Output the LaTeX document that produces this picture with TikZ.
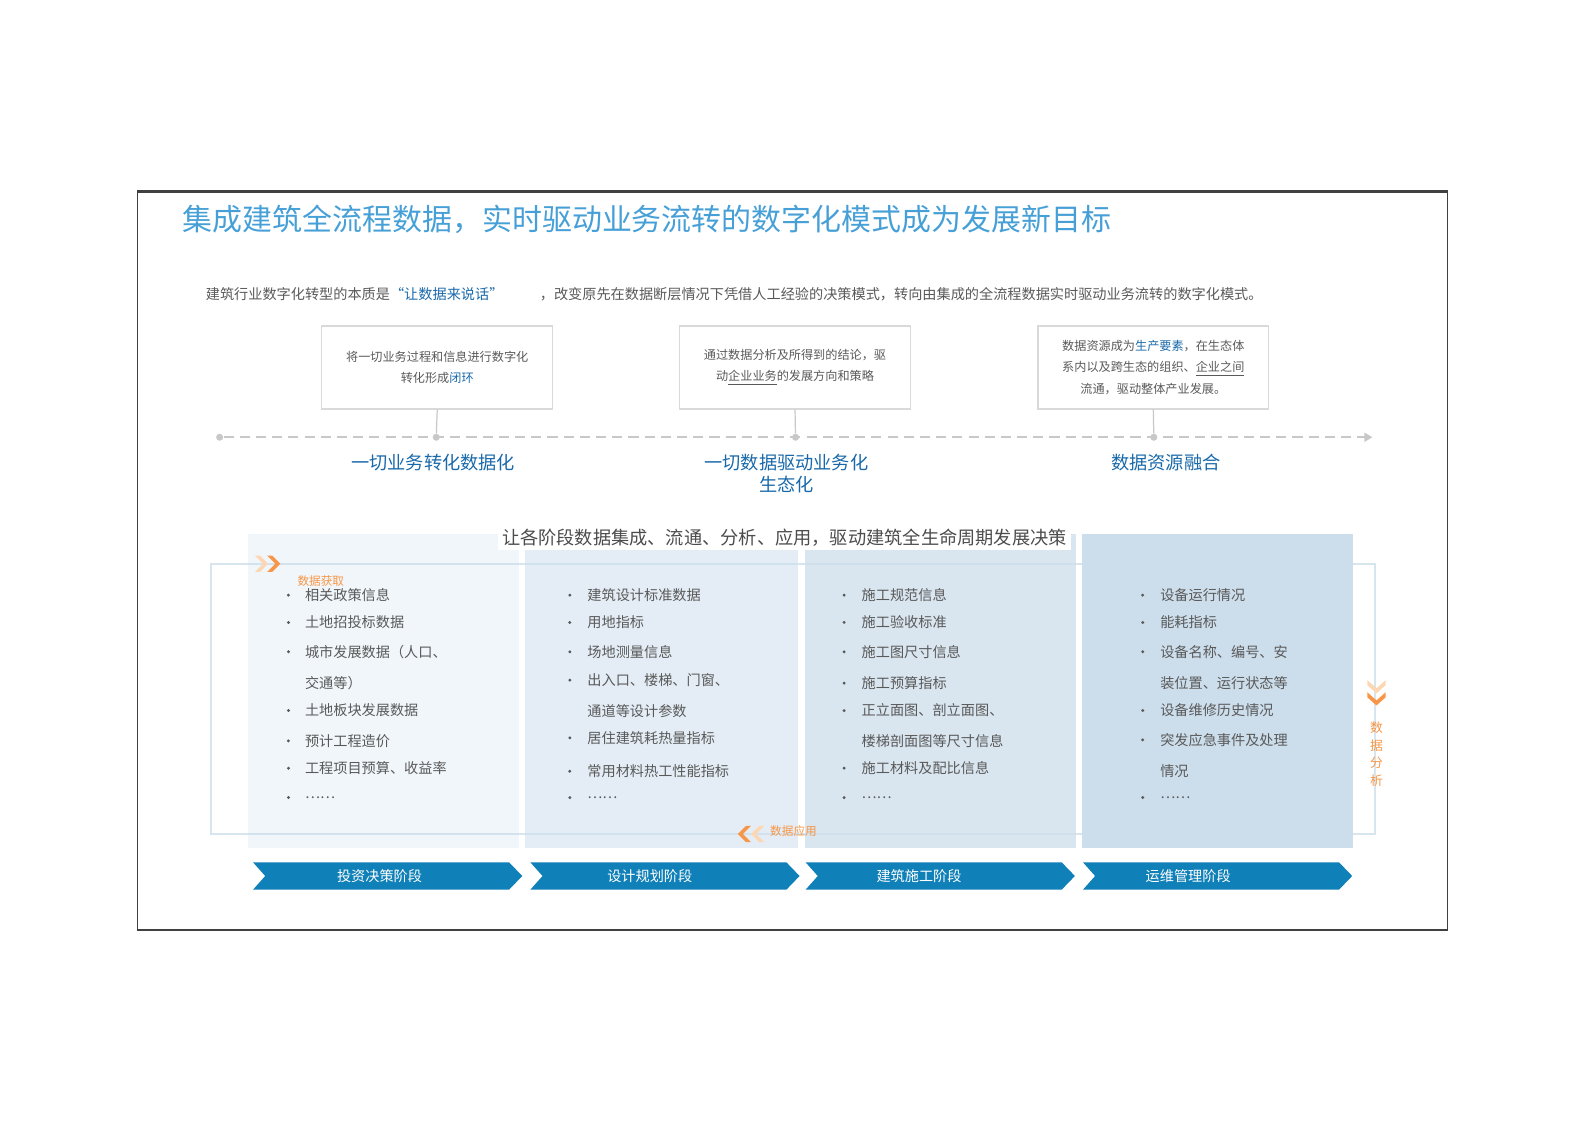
\documentclass[tikz,border=0pt]{standalone}
\usepackage{fontspec}
\setmainfont{Noto Sans CJK SC}
\usetikzlibrary{arrows.meta}

\definecolor{framegray}{RGB}{64,64,64}
\definecolor{titleblue}{RGB}{70,160,215}
\definecolor{textgray}{RGB}{89,89,89}
\definecolor{boxgray}{RGB}{217,217,217}
\definecolor{linegray}{RGB}{200,200,200}
\definecolor{labelblue}{RGB}{25,105,170}
\definecolor{colA}{RGB}{241,246,250}
\definecolor{colB}{RGB}{228,237,245}
\definecolor{colC}{RGB}{217,230,240}
\definecolor{colD}{RGB}{204,221,235}
\definecolor{stageblue}{RGB}{16,128,184}
\definecolor{flow}{RGB}{247,150,70}
\definecolor{flowlight}{RGB}{253,215,180}
\definecolor{innerline}{RGB}{205,222,235}

\begin{document}
\begin{tikzpicture}[x=0.5pt,y=-0.5pt,
    infobox/.style={draw=boxgray, line width=0.6pt, minimum width=114pt, minimum height=41pt,
      align=center, text=textgray, font=\fontsize{6}{10.5}\selectfont},
    tickdot/.style={circle, fill=linegray, inner sep=0pt, minimum size=3.5pt},
    stem/.style={linegray, line width=0.6pt},
    timeline/.style={linegray, line width=0.8pt, dash pattern=on 5pt off 3pt,
      -{Triangle[length=4pt,width=4.5pt]}},
    phaselabel/.style={text=labelblue, font=\fontsize{9}{11}\selectfont, align=center},
    bullettext/.style={anchor=west, text=textgray, font=\fontsize{7}{8}\selectfont, inner sep=0pt},
    stagetext/.style={text=white, font=\fontsize{7}{8}\selectfont},
    flowtag/.style={text=flow, font=\fontsize{5.75}{7}\selectfont}]

    \useasboundingbox (0,0) rectangle (1568,1108.6);

    % Outer frame
    \draw[framegray, line width=0.8pt] (136,189) rectangle (1430,919);
    \draw[framegray, line width=1.6pt] (136,189) -- (1430,189);

    % Title and introduction
    \node[anchor=west, inner sep=0pt, text=titleblue, font=\fontsize{14.8}{16}\selectfont] (title) at (180,217)
      {集成建筑全流程数据，实时驱动业务流转的数字化模式成为发展新目标};
    \node[anchor=west, inner sep=0pt, text=textgray, font=\fontsize{7}{8}\selectfont] (introA) at (203,291)
      {建筑行业数字化转型的本质是{\color{labelblue}“让数据来说话”}};
    \node[anchor=west, inner sep=0pt, text=textgray, font=\fontsize{7}{8}\selectfont] (introB) at (533,291)
      {，改变原先在数据断层情况下凭借人工经验的决策模式，转向由集成的全流程数据实时驱动业务流转的数字化模式。};

    % Boxes above the timeline
    \node[infobox] (box1) at (432,363) {将一切业务过程和信息进行数字化\\转化形成{\color{labelblue}闭环}};
    \node[infobox] (box2) at (785.5,363) {通过数据分析及所得到的结论，驱\\动\underline{企业业务}的发展方向和策略};
    \node[infobox] (box3) at (1139.5,363) {数据资源成为{\color{labelblue}生产要素}，在生态体\\系内以及跨生态的组织、\underline{企业之间}\\流通，驱动整体产业发展。};

    % Timeline
    \node[tickdot] (t0) at (217,432) {};
    \coordinate (t9) at (1356,432);
    \draw[timeline] (t0) -- (t9);
    \node[tickdot] (d1) at (431,432) {};
    \node[tickdot] (d2) at (786,432) {};
    \node[tickdot] (d3) at (1140,432) {};
    \draw[stem] (box1.south) -- (d1);
    \draw[stem] (box2.south) -- (d2);
    \draw[stem] (box3.south) -- (d3);

    % Phase labels
    \node[phaselabel] (p1) at (428,457) {一切业务转化数据化};
    \node[phaselabel] (p2) at (777,468) {一切数据驱动业务化\\生态化};
    \node[phaselabel] (p3) at (1152,457) {数据资源融合};

    % Stage columns
    \fill[colA] (245,528) rectangle (513,838);
    \fill[colB] (519,528) rectangle (788,838);
    \fill[colC] (795,528) rectangle (1063,838);
    \fill[colD] (1069,528) rectangle (1337,838);
    \draw[innerline, line width=1pt, opacity=0.8] (208,557) rectangle (1359,824);

    \node[fill=white, text=textgray!85!black, font=\fontsize{9}{10}\selectfont, inner sep=2pt] (goal) at (775,531)
      {让各阶段数据集成、流通、分析、应用，驱动建筑全生命周期发展决策};

    % Data flow marks
    \fill[flowlight] (252,549) -- ++(5,0) -- ++(8,8) -- ++(-8,8) -- ++(-5,0) -- ++(8,-8) -- cycle;
    \fill[flow] (264,549) -- ++(5,0) -- ++(8,8) -- ++(-8,8) -- ++(-5,0) -- ++(8,-8) -- cycle;
    \node[flowtag] (get) at (317,574) {数据获取};

    \fill[flowlight] (1351,672) -- ++(9,8) -- ++(9,-8) -- ++(0,5) -- ++(-9,8) -- ++(-9,-8) -- cycle;
    \fill[flow] (1351,684) -- ++(9,8) -- ++(9,-8) -- ++(0,5) -- ++(-9,8) -- ++(-9,-8) -- cycle;
    \node[flowtag, align=center, font=\fontsize{6.3}{8.75}\selectfont] (analysis) at (1360,745) {数\\据\\分\\析};

    \fill[flow] (742,816) -- ++(-5,0) -- ++(-8,8) -- ++(8,8) -- ++(5,0) -- ++(-8,-8) -- cycle;
    \fill[flowlight] (755,816) -- ++(-5,0) -- ++(-8,8) -- ++(8,8) -- ++(5,0) -- ++(-8,-8) -- cycle;
    \node[flowtag] (use) at (784,821) {数据应用};

    % Column items
    \foreach \y/\t [count=\i] in {588/相关政策信息, 615/土地招投标数据, 644/城市发展数据（人口、, 675/交通等）,
        702/土地板块发展数据, 732/预计工程造价, 759/工程项目预算、收益率, 788/……}
      \node[bullettext] (a\i) at (301,\y) {\t};
    \foreach \y in {588,615,644,702,732,759,788}
      \fill[textgray] (285,\y) circle (0.8pt);

    \foreach \y/\t [count=\i] in {588/建筑设计标准数据, 615/用地指标, 644/场地测量信息, 672/出入口、楼梯、门窗、,
        703/通道等设计参数, 729/居住建筑耗热量指标, 762/常用材料热工性能指标, 788/……}
      \node[bullettext] (b\i) at (580,\y) {\t};
    \foreach \y in {588,615,644,672,729,762,788}
      \fill[textgray] (563,\y) circle (0.8pt);

    \foreach \y/\t [count=\i] in {588/施工规范信息, 615/施工验收标准, 644/施工图尺寸信息, 675/施工预算指标,
        702/正立面图、剖立面图、, 732/楼梯剖面图等尺寸信息, 759/施工材料及配比信息, 788/……}
      \node[bullettext] (c\i) at (851,\y) {\t};
    \foreach \y in {588,615,644,675,702,759,788}
      \fill[textgray] (834,\y) circle (0.8pt);

    \foreach \y/\t [count=\i] in {588/设备运行情况, 615/能耗指标, 644/设备名称、编号、安, 675/装位置、运行状态等,
        702/设备维修历史情况, 731/突发应急事件及处理, 762/情况, 788/……}
      \node[bullettext] (e\i) at (1146,\y) {\t};
    \foreach \y in {588,615,644,702,731,788}
      \fill[textgray] (1129,\y) circle (0.8pt);

    % Stage arrows
    \foreach \x/\c/\t [count=\i] in {250/375/投资决策阶段, 524/642/设计规划阶段, 796/908/建筑施工阶段, 1070/1174/运维管理阶段}{
      \fill[stageblue] (\x,852) -- ++(253,0) -- ++(13,13.5) -- ++(-13,13.5) -- ++(-253,0) -- ++(12,-13.5) -- cycle;
      \node[stagetext] (stage\i) at (\c,865.5) {\t};
    }
  \end{tikzpicture}
\end{document}
